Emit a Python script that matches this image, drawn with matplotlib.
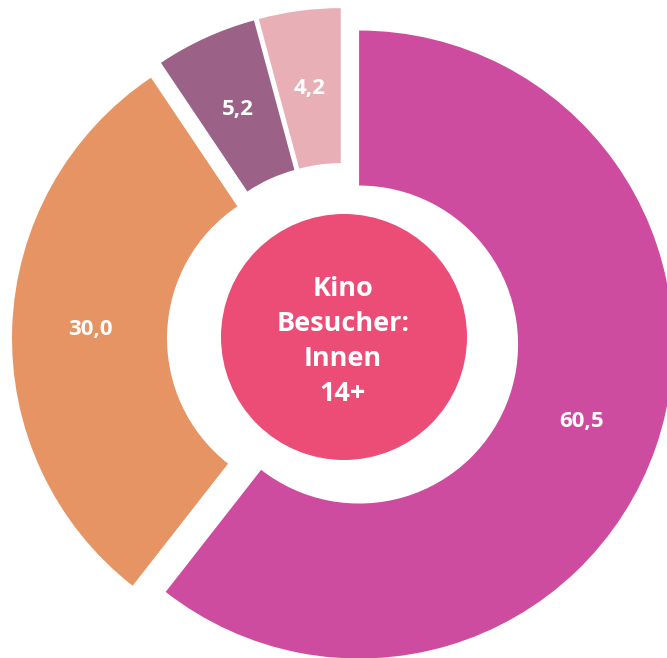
import matplotlib
matplotlib.use("Agg")
import matplotlib.pyplot as plt
from matplotlib.patches import Circle

# Data
categories = ["A", "B", "C", "D"]
values = [60.5, 30.0, 5.2, 4.2]
colors = ["#CD4C9F", "#E69463", "#9C6186", "#E8B0B6"]
center_label = "Kino\nBesucher:\nInnen\n14+"

W, H = 667, 658
fig = plt.figure(figsize=(W / 100, H / 100), dpi=100)
ax = fig.add_axes([0, 0, 1, 1])

total = sum(values)

def fmt(pct):
    v = pct * total / 100.0
    return f"{v:.1f}".replace(".", ",")

cx, cy = 343, H - 339
R = 314
ring = 155

wedges, texts, autotexts = ax.pie(
    values,
    colors=colors,
    startangle=90,
    counterclock=False,
    radius=R,
    center=(cx, cy),
    explode=[17] * len(values),
    wedgeprops=dict(width=ring, linewidth=0),
    autopct=fmt,
    pctdistance=0.75,
    textprops=dict(color="white", fontsize=16, fontweight="bold",
                   family=["Open Sans", "DejaVu Sans"]),
)

ax.add_patch(Circle((344, H - 337), 123, color="#EC4D76", linewidth=0, zorder=3))
ax.text(343, H - 341.5, center_label, ha="center", va="center", color="white",
        fontsize=19.5, fontweight="bold", family=["Open Sans", "DejaVu Sans"],
        linespacing=1.45, zorder=4)

ax.set_xlim(0, W)
ax.set_ylim(0, H)
ax.set_aspect("equal")
ax.axis("off")

fig.savefig("out.png", dpi=100)
